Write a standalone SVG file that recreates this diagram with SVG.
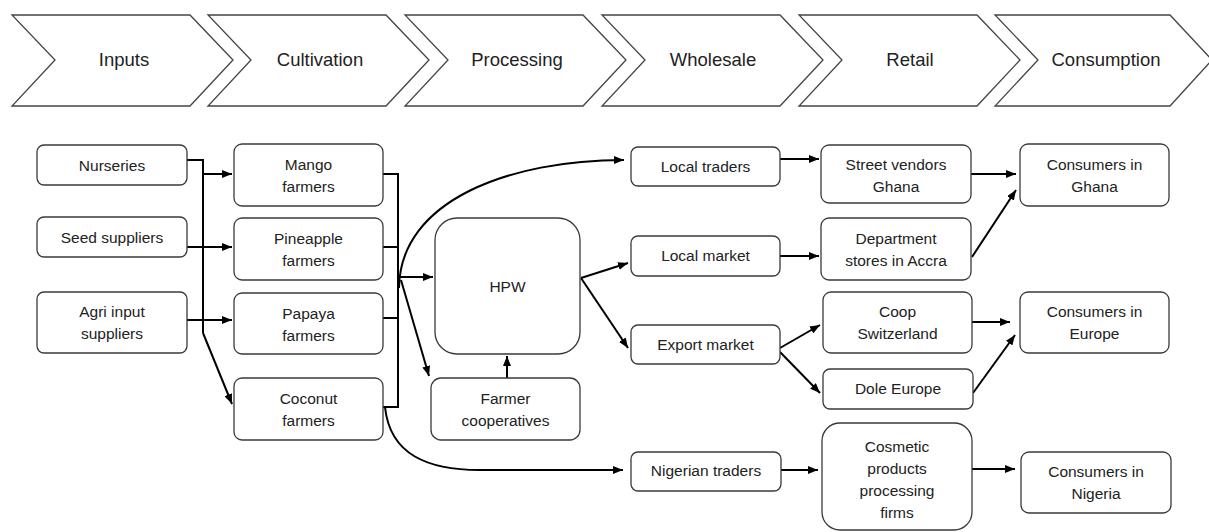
<svg xmlns="http://www.w3.org/2000/svg" width="1209" height="532" viewBox="0 0 1209 532">
<defs>
<marker id="ah" viewBox="0 0 10 8" refX="10" refY="4" markerWidth="10" markerHeight="8" markerUnits="userSpaceOnUse" orient="auto">
<path d="M0,0 L10,4 L0,8 z" fill="#000"/>
</marker>
<style>
.chev{fill:#fff;stroke:#444;stroke-width:1.3;stroke-linejoin:miter}
.box{fill:#fff;stroke:#3a3a3a;stroke-width:1.3}
.ct{font-family:"Liberation Sans",Arial,sans-serif;font-size:18.5px;fill:#222;text-anchor:middle}
.t{font-family:"Liberation Sans",Arial,sans-serif;font-size:15.5px;fill:#222;text-anchor:middle}
.c{fill:none;stroke:#000;stroke-width:2}
.a{fill:none;stroke:#000;stroke-width:2;marker-end:url(#ah)}
</style>
</defs>
<rect width="1209" height="532" fill="#fff"/>

<g id="stages">
<g id="stage-inputs"><polygon class="chev" points="12,15 190,15 233,60 190,106 12,106 55,60"/><text class="ct" x="124" y="66">Inputs</text></g>
<g id="stage-cultivation"><polygon class="chev" points="208,15 386,15 429,60 386,106 208,106 251,60"/><text class="ct" x="320" y="66">Cultivation</text></g>
<g id="stage-processing"><polygon class="chev" points="405,15 583,15 626,60 583,106 405,106 448,60"/><text class="ct" x="517" y="66">Processing</text></g>
<g id="stage-wholesale"><polygon class="chev" points="602,15 780,15 823,60 780,106 602,106 645,60"/><text class="ct" x="713" y="66">Wholesale</text></g>
<g id="stage-retail"><polygon class="chev" points="799,15 977,15 1020,60 977,106 799,106 842,60"/><text class="ct" x="910" y="66">Retail</text></g>
<g id="stage-consumption"><polygon class="chev" points="995,15 1170,15 1212,60 1170,106 995,106 1038,60"/><text class="ct" x="1106" y="66">Consumption</text></g>
</g>

<g id="connectors">
<path class="c" d="M187,160 H203 V333"/>
<path class="a" d="M203,333 L232,404"/>
<path class="a" d="M203,174 H232"/>
<path class="a" d="M187,247 H232"/>
<path class="a" d="M187,320 H232"/>
<path class="c" d="M383,174 H398 V407 H383"/>
<path class="c" d="M383,247 H398"/>
<path class="c" d="M383,318 H398"/>
<path class="a" d="M398,277 H433"/>
<path class="a" d="M401,280 L429,376"/>
<path class="a" d="M399,288 C400,200 510,160 624,160"/>
<path class="a" d="M385,407 C390,455 428,470 480,470 L623,470"/>
<path class="a" d="M507,378 V356"/>
<path class="a" d="M581,278 L628,263"/>
<path class="a" d="M581,278 L628,348"/>
<path class="a" d="M780,159 H819"/>
<path class="a" d="M780,256 H819"/>
<path class="a" d="M780,348 L820,325"/>
<path class="a" d="M780,352 L820,393"/>
<path class="a" d="M971,174 H1016"/>
<path class="a" d="M972,257 L1016,190"/>
<path class="a" d="M972,322 H1010"/>
<path class="a" d="M973,393 L1015,335"/>
<path class="a" d="M781,470 H818"/>
<path class="a" d="M972,469 H1015"/>
</g>

<g id="nurseries"><rect class="box" x="37" y="145" width="150" height="40" rx="7"/><text class="t" x="112" y="170.5">Nurseries</text></g>
<g id="seed-suppliers"><rect class="box" x="37" y="217" width="150" height="40" rx="7"/><text class="t" x="112" y="242.5">Seed suppliers</text></g>
<g id="agri-input-suppliers"><rect class="box" x="37" y="292" width="150" height="61" rx="7"/><text class="t" x="112" y="317">Agri input</text><text class="t" x="112" y="339">suppliers</text></g>

<g id="mango-farmers"><rect class="box" x="234" y="144" width="149" height="62" rx="8"/><text class="t" x="308.5" y="170">Mango</text><text class="t" x="308.5" y="192">farmers</text></g>
<g id="pineapple-farmers"><rect class="box" x="234" y="218" width="149" height="62" rx="8"/><text class="t" x="308.5" y="244">Pineapple</text><text class="t" x="308.5" y="266">farmers</text></g>
<g id="papaya-farmers"><rect class="box" x="234" y="293" width="149" height="61" rx="8"/><text class="t" x="308.5" y="318.5">Papaya</text><text class="t" x="308.5" y="340.5">farmers</text></g>
<g id="coconut-farmers"><rect class="box" x="234" y="378" width="149" height="62" rx="8"/><text class="t" x="308.5" y="404">Coconut</text><text class="t" x="308.5" y="426">farmers</text></g>

<g id="hpw"><rect class="box" x="435" y="218" width="145" height="136" rx="22"/><text class="t" x="507.5" y="292">HPW</text></g>
<g id="farmer-cooperatives"><rect class="box" x="431" y="378" width="149" height="62" rx="10"/><text class="t" x="505.5" y="404">Farmer</text><text class="t" x="505.5" y="426">cooperatives</text></g>

<g id="local-traders"><rect class="box" x="631" y="147" width="149" height="39" rx="7"/><text class="t" x="705.5" y="171.5">Local traders</text></g>
<g id="local-market"><rect class="box" x="631" y="236" width="149" height="40" rx="7"/><text class="t" x="705.5" y="261">Local market</text></g>
<g id="export-market"><rect class="box" x="631" y="325" width="149" height="39" rx="7"/><text class="t" x="705.5" y="349.5">Export market</text></g>
<g id="nigerian-traders"><rect class="box" x="631" y="452" width="150" height="39" rx="7"/><text class="t" x="706" y="476">Nigerian traders</text></g>

<g id="street-vendors-ghana"><rect class="box" x="821" y="145" width="150" height="58" rx="8"/><text class="t" x="896" y="170">Street vendors</text><text class="t" x="896" y="192">Ghana</text></g>
<g id="department-stores"><rect class="box" x="821" y="218" width="150" height="62" rx="8"/><text class="t" x="896" y="244">Department</text><text class="t" x="896" y="266">stores in Accra</text></g>
<g id="coop-switzerland"><rect class="box" x="823" y="292" width="149" height="61" rx="8"/><text class="t" x="897.5" y="317">Coop</text><text class="t" x="897.5" y="339">Switzerland</text></g>
<g id="dole-europe"><rect class="box" x="823" y="369" width="150" height="40" rx="7"/><text class="t" x="898" y="394">Dole Europe</text></g>
<g id="cosmetic-firms"><rect class="box" x="822" y="423" width="150" height="107" rx="18"/><text class="t" x="897" y="451.5">Cosmetic</text><text class="t" x="897" y="473.5">products</text><text class="t" x="897" y="495.5">processing</text><text class="t" x="897" y="517.5">firms</text></g>

<g id="consumers-ghana"><rect class="box" x="1020" y="144" width="149" height="62" rx="8"/><text class="t" x="1094.5" y="170">Consumers in</text><text class="t" x="1094.5" y="192">Ghana</text></g>
<g id="consumers-europe"><rect class="box" x="1020" y="292" width="149" height="61" rx="8"/><text class="t" x="1094.5" y="317">Consumers in</text><text class="t" x="1094.5" y="339">Europe</text></g>
<g id="consumers-nigeria"><rect class="box" x="1021" y="452" width="150" height="61" rx="8"/><text class="t" x="1096" y="477">Consumers in</text><text class="t" x="1096" y="499">Nigeria</text></g>
</svg>
